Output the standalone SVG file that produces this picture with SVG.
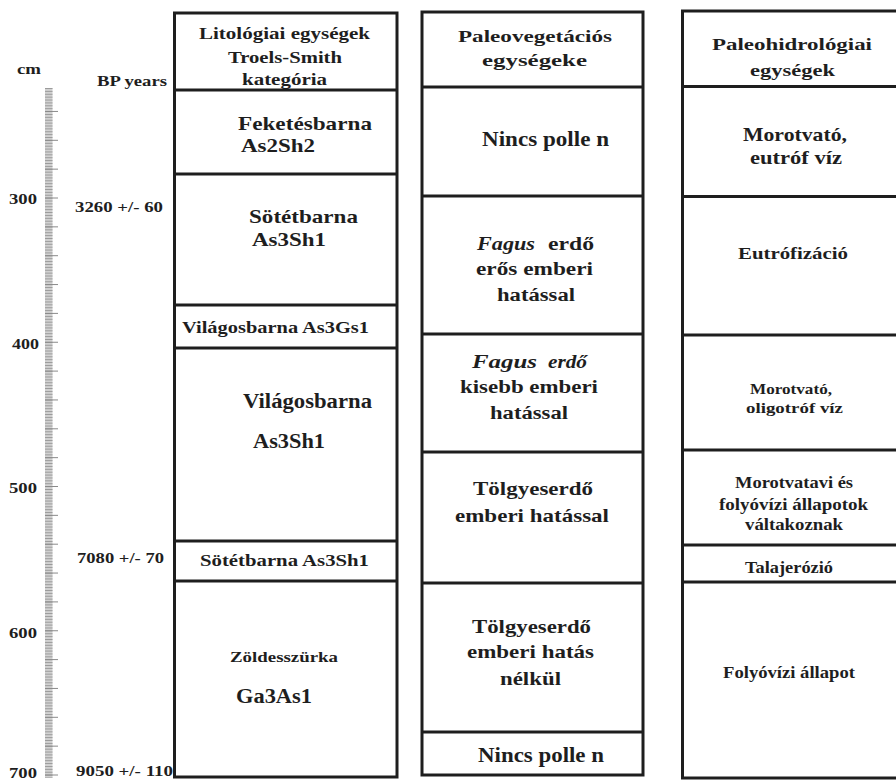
<svg xmlns="http://www.w3.org/2000/svg" width="896" height="780" viewBox="0 0 896 780">
<style>
text{font-family:"Liberation Serif","Times New Roman",serif;font-weight:bold;fill:#1e1e1e;}
.f15{font-size:15px}.f16{font-size:16px}.f17{font-size:17px}.f18{font-size:18px}.f19{font-size:19px}.f20{font-size:20px}
.it{font-style:italic}
.box{fill:#fff;stroke:#1e1e1e;stroke-width:3}
.sep{stroke:#1e1e1e;stroke-width:3;fill:none}
.tick{stroke:#8a8a8a;stroke-width:1;fill:none}
</style>
<defs>
<pattern id="minor" patternUnits="userSpaceOnUse" x="0" y="88" width="20" height="2.885">
<rect x="0" y="0" width="20" height="1" fill="#9a9a9a"/>
</pattern>
</defs>
<rect width="896" height="780" fill="#fff"/>

<g id="scale">
<rect x="45" y="88" width="7.5" height="690" fill="#d2d2d2"/>
<rect x="45" y="88" width="7.5" height="690" fill="url(#minor)"/>
<path class="tick" d="M45 111.45h13M45 140.3h13M45 169.15h13M45 198h13M45 226.85h13M45 255.7h13M45 284.55h13M45 313.4h13M45 342.25h13M45 371.1h13M45 399.95h13M45 428.8h13M45 457.65h13M45 486.5h13M45 515.35h13M45 544.2h13M45 573.05h13M45 601.9h13M45 630.75h13M45 659.6h13M45 688.45h13M45 717.3h13M45 746.15h13M45 775h13"/>
<text class="f15" x="17" y="74" textLength="24" lengthAdjust="spacingAndGlyphs">cm</text>
<text class="f15" x="9" y="204" textLength="28" lengthAdjust="spacingAndGlyphs">300</text>
<text class="f15" x="12" y="349" textLength="27" lengthAdjust="spacingAndGlyphs">400</text>
<text class="f15" x="9" y="493" textLength="28" lengthAdjust="spacingAndGlyphs">500</text>
<text class="f15" x="9" y="638" textLength="28" lengthAdjust="spacingAndGlyphs">600</text>
<text class="f15" x="9" y="778" textLength="28" lengthAdjust="spacingAndGlyphs">700</text>
</g>

<g id="ages">
<text class="f15" x="97" y="86" textLength="70" lengthAdjust="spacingAndGlyphs">BP years</text>
<text class="f15" x="75" y="212" textLength="88" lengthAdjust="spacingAndGlyphs">3260 +/- 60</text>
<text class="f15" x="77" y="563" textLength="87" lengthAdjust="spacingAndGlyphs">7080 +/- 70</text>
<text class="f15" x="76" y="776" textLength="97" lengthAdjust="spacingAndGlyphs">9050 +/- 110</text>
</g>

<g id="col-lito">
<rect class="box" x="174.5" y="13" width="222.5" height="764"/>
<path class="sep" d="M174.5 90H397M174.5 174H397M174.5 305H397M174.5 348H397M174.5 541H397M174.5 581H397"/>
<g id="lito-header">
<text class="f17" x="199" y="39" textLength="171" lengthAdjust="spacingAndGlyphs">Litológiai egységek</text>
<text class="f17" x="228" y="63" textLength="114" lengthAdjust="spacingAndGlyphs">Troels-Smith</text>
<text class="f17" x="242" y="85" textLength="85" lengthAdjust="spacingAndGlyphs">kategória</text>
</g>
<g id="lito-1">
<text class="f19" x="238" y="130" textLength="134" lengthAdjust="spacingAndGlyphs">Feketésbarna</text>
<text class="f19" x="241" y="152" textLength="74" lengthAdjust="spacingAndGlyphs">As2Sh2</text>
</g>
<g id="lito-2">
<text class="f19" x="249" y="223" textLength="109" lengthAdjust="spacingAndGlyphs">Sötétbarna</text>
<text class="f19" x="252" y="246" textLength="74" lengthAdjust="spacingAndGlyphs">As3Sh1</text>
</g>
<g id="lito-3">
<text class="f16" x="182" y="333" textLength="187" lengthAdjust="spacingAndGlyphs">Világosbarna As3Gs1</text>
</g>
<g id="lito-4">
<text class="f20" x="243" y="408" textLength="129" lengthAdjust="spacingAndGlyphs">Világosbarna</text>
<text class="f20" x="253" y="448" textLength="72" lengthAdjust="spacingAndGlyphs">As3Sh1</text>
</g>
<g id="lito-5">
<text class="f17" x="200" y="566" textLength="169" lengthAdjust="spacingAndGlyphs">Sötétbarna As3Sh1</text>
</g>
<g id="lito-6">
<text class="f15" x="230" y="662" textLength="108" lengthAdjust="spacingAndGlyphs">Zöldesszürka</text>
<text class="f20" x="236" y="703" textLength="76" lengthAdjust="spacingAndGlyphs">Ga3As1</text>
</g>
</g>

<g id="col-veg">
<rect class="box" x="422" y="12" width="221" height="763"/>
<path class="sep" d="M422 87H643M422 196H643M422 334H643M422 452H643M422 583H643M422 732H643"/>
<g id="veg-header">
<text class="f17" x="458" y="42" textLength="154" lengthAdjust="spacingAndGlyphs">Paleovegetációs</text>
<text class="f17" x="482" y="66" textLength="105" lengthAdjust="spacingAndGlyphs">egységeke</text>
</g>
<g id="veg-1">
<text class="f20" x="482" y="146" textLength="127" lengthAdjust="spacingAndGlyphs">Nincs polle n</text>
</g>
<g id="veg-2">
<text class="f18 it" x="477" y="250" textLength="58" lengthAdjust="spacingAndGlyphs">Fagus</text>
<text class="f18" x="548" y="250" textLength="46" lengthAdjust="spacingAndGlyphs">erdő</text>
<text class="f18" x="476" y="275" textLength="117" lengthAdjust="spacingAndGlyphs">erős emberi</text>
<text class="f18" x="497" y="301" textLength="78" lengthAdjust="spacingAndGlyphs">hatással</text>
</g>
<g id="veg-3">
<text class="f18 it" x="472" y="368" textLength="65" lengthAdjust="spacingAndGlyphs">Fagus</text>
<text class="f18 it" x="548" y="368" textLength="39" lengthAdjust="spacingAndGlyphs">erdő</text>
<text class="f18" x="460" y="393" textLength="138" lengthAdjust="spacingAndGlyphs">kisebb emberi</text>
<text class="f18" x="490" y="419" textLength="78" lengthAdjust="spacingAndGlyphs">hatással</text>
</g>
<g id="veg-4">
<text class="f19" x="473" y="495" textLength="120" lengthAdjust="spacingAndGlyphs">Tölgyeserdő</text>
<text class="f19" x="455" y="522" textLength="154" lengthAdjust="spacingAndGlyphs">emberi hatással</text>
</g>
<g id="veg-5">
<text class="f19" x="472" y="633" textLength="119" lengthAdjust="spacingAndGlyphs">Tölgyeserdő</text>
<text class="f19" x="467" y="658" textLength="127" lengthAdjust="spacingAndGlyphs">emberi hatás</text>
<text class="f19" x="500" y="685" textLength="61" lengthAdjust="spacingAndGlyphs">nélkül</text>
</g>
<g id="veg-6">
<text class="f20" x="478" y="762" textLength="126" lengthAdjust="spacingAndGlyphs">Nincs polle n</text>
</g>
</g>

<g id="col-hydro">
<rect class="box" x="682.5" y="11" width="230" height="767"/>
<path class="sep" d="M682.5 86.5H912M682.5 196.5H912M682.5 335H912M682.5 450H912M682.5 545H912M682.5 582H912"/>
<g id="hydro-header">
<text class="f17" x="712" y="50" textLength="160" lengthAdjust="spacingAndGlyphs">Paleohidrológiai</text>
<text class="f17" x="750" y="76" textLength="85" lengthAdjust="spacingAndGlyphs">egységek</text>
</g>
<g id="hydro-1">
<text class="f19" x="743" y="141" textLength="104" lengthAdjust="spacingAndGlyphs">Morotvató,</text>
<text class="f19" x="750" y="164" textLength="92" lengthAdjust="spacingAndGlyphs">eutróf víz</text>
</g>
<g id="hydro-2">
<text class="f17" x="738" y="259" textLength="110" lengthAdjust="spacingAndGlyphs">Eutrófizáció</text>
</g>
<g id="hydro-3">
<text class="f15" x="750" y="394" textLength="82" lengthAdjust="spacingAndGlyphs">Morotvató,</text>
<text class="f15" x="746" y="413" textLength="97" lengthAdjust="spacingAndGlyphs">oligotróf víz</text>
</g>
<g id="hydro-4">
<text class="f16" x="735" y="488" textLength="118" lengthAdjust="spacingAndGlyphs">Morotvatavi és</text>
<text class="f16" x="719" y="510" textLength="149" lengthAdjust="spacingAndGlyphs">folyóvízi állapotok</text>
<text class="f16" x="745" y="530" textLength="98" lengthAdjust="spacingAndGlyphs">váltakoznak</text>
</g>
<g id="hydro-5">
<text class="f16" x="745" y="573" textLength="88" lengthAdjust="spacingAndGlyphs">Talajerózió</text>
</g>
<g id="hydro-6">
<text class="f16" x="723" y="678" textLength="132" lengthAdjust="spacingAndGlyphs">Folyóvízi állapot</text>
</g>
</g>
</svg>
